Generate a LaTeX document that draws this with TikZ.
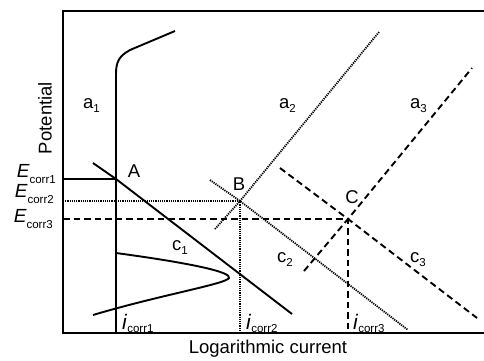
\documentclass[tikz,border=0pt]{standalone}
\usepackage{fontspec}
\setmainfont{Liberation Sans}
\usetikzlibrary{positioning}

\newcommand{\smallsub}[2]{\raisebox{#1}{\fontsize{11.5}{11.5}\selectfont #2}}
\newcommand{\Ecorr}[1]{{\fontsize{19}{19}\selectfont\textit{E}}\smallsub{-6pt}{corr#1}}
\newcommand{\icorr}[1]{{\fontsize{21}{21}\selectfont\textit{i}}\smallsub{-3pt}{corr#1}}
\newcommand{\branch}[2]{#1\smallsub{-4pt}{#2}}

\tikzset{
  axisline/.style={line width=2pt},
  solidline/.style={line width=1.9pt},
  dotline/.style={line width=1.8pt, dash pattern=on 1.2pt off 1pt},
  dashline/.style={line width=1.9pt, dash pattern=on 6.5pt off 4pt},
  lbl/.style={font=\fontsize{18.5}{18.5}\selectfont, inner sep=0pt},
}

\begin{document}
\begin{tikzpicture}[x=1pt,y=-1pt]
        \useasboundingbox (0,0) rectangle (484,360);
        % corrosion points
        \coordinate (A) at (116,179);
        \coordinate (B) at (240,201);
        \coordinate (C) at (348,219);
        % axes
        \coordinate (topright) at (484,11);
        \coordinate (origin) at (63,333);
        \coordinate (botright) at (484,333);
        \draw[axisline] (topright) -| (origin) -- (botright);
        % branch 1 (solid)
        \draw[solidline] (116,333) -- (A) -- (116,74)
            .. controls (116,62) and (119,56) .. (130,50) -- (175,31);
        \draw[solidline] (93,163) -- (A) -- (292,314);
        \draw[solidline] (116,253) .. controls (190,263) and (232,272) .. (229,278)
            .. controls (226,284) and (160,295) .. (93,315);
        \draw[solidline] (origin |- A) -- (A);
        % branch 2 (dotted)
        \draw[dotline] (215,229) -- (B) -- (379,32);
        \draw[dotline] (210,180) -- (B) -- (408,330);
        \draw[dotline] (origin |- B) -- (B) -- (B |- origin);
        % branch 3 (dashed)
        \draw[dashline] (304,271) -- (C) -- (472,68);
        \draw[dashline] (280,168) -- (C) -- (477,318);
        \draw[dashline] (origin |- C) -- (C) -- (C |- origin);
        % labels
        \node[lbl] (labA) at (134,171) {A};
        \node[lbl] (labB) at (239,184) {B};
        \node[lbl] (labC) at (352,197) {C};
        \node[lbl, anchor=base west] (a1) at (83,108) {\branch{a}{1}};
        \node[lbl, anchor=base west] (a2) at (279,108) {\branch{a}{2}};
        \node[lbl, anchor=base west] (a3) at (410,108) {\branch{a}{3}};
        \node[lbl, anchor=base west] (c1) at (172,250) {\branch{c}{1}};
        \node[lbl, anchor=base west] (c2) at (277,262) {\branch{c}{2}};
        \node[lbl, anchor=base west] (c3) at (410,262) {\branch{c}{3}};
        \node[lbl, anchor=base east] (E1) at (56,177) {\Ecorr{1}};
        \node[lbl, anchor=base east] (E2) at (54,197) {\Ecorr{2}};
        \node[lbl, anchor=base east] (E3) at (53,222) {\Ecorr{3}};
        \node[lbl, anchor=base west] (i1) at (122,329) {\icorr{1}};
        \node[lbl, anchor=base west] (i2) at (246,329) {\icorr{2}};
        \node[lbl, anchor=base west] (i3) at (353,329) {\icorr{3}};
        \node[lbl, rotate=90] (ylab) at (45,118) {Potential};
        \node[lbl, anchor=base] (xlab) at (268,353) {Logarithmic current};
\end{tikzpicture}
\end{document}
